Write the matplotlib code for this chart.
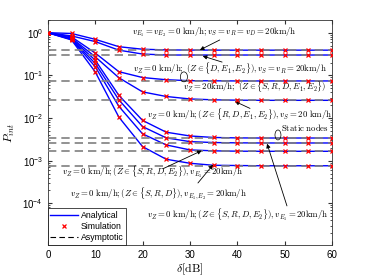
import matplotlib
matplotlib.use('Agg')
import matplotlib.pyplot as plt
from matplotlib.lines import Line2D
from matplotlib.patches import Ellipse
from matplotlib.ticker import LogLocator, NullFormatter

plt.rcParams['font.family'] = ['Liberation Sans', 'DejaVu Sans']
plt.rcParams['mathtext.fontset'] = 'cm'

# SNR points (dB)
delta = [0, 5, 10, 15, 20, 25, 30, 35, 40, 45, 50, 55, 60]

# outage probability curves
p_a1 = [1, 0.96, 0.70, 0.47, 0.41, 0.395, 0.392, 0.391, 0.39, 0.39, 0.39, 0.39, 0.39]
p_a2 = [1, 0.84, 0.62, 0.39, 0.316, 0.30, 0.30, 0.30, 0.30, 0.30, 0.30, 0.30, 0.30]
p_b1 = [1, 0.80, 0.334, 0.122, 0.089, 0.079, 0.075, 0.0745, 0.074, 0.074, 0.074, 0.074, 0.074]
p_b2 = [1, 0.75, 0.273, 0.088, 0.041, 0.032, 0.028, 0.0267, 0.0262, 0.026, 0.026, 0.026, 0.026]
p_c1 = [1, 0.73, 0.228, 0.034, 0.0088, 0.00465, 0.0038, 0.0035, 0.00342, 0.0034, 0.0034, 0.0034, 0.0034]
p_c2 = [1, 0.71, 0.191, 0.0267, 0.0063, 0.00343, 0.0028, 0.00266, 0.00262, 0.0026, 0.0026, 0.0026, 0.0026]
p_c3 = [1, 0.695, 0.16, 0.0188, 0.00426, 0.00234, 0.00179, 0.0017, 0.00167, 0.00166, 0.00166, 0.00166, 0.00166]
p_c4 = [1, 0.676, 0.121, 0.0105, 0.00214, 0.00108, 0.00087, 0.00078, 0.00077, 0.00076, 0.00076, 0.00076, 0.00076]
curves = [p_a1, p_a2, p_b1, p_b2, p_c1, p_c2, p_c3, p_c4]

# asymptotic floors
asym = [0.39, 0.30, 0.074, 0.026, 0.0034, 0.0026, 0.00166, 0.00076]

fig = plt.figure(figsize=(3.68, 2.76), dpi=100)
ax = fig.add_axes([0.130, 0.112, 0.772, 0.816])

for p in curves:
    ax.plot(delta, p, color='#0000ff', lw=1.0, zorder=2)
ax.hlines(asym, 0, 60, colors='#7f7f7f', linestyles=(0, (5, 3)), lw=1.2, zorder=3)
for p in curves:
    ax.plot(delta, p, ls='none', marker='x', color='#ff0000', ms=3.5, mew=0.9, zorder=4)

ax.set_yscale('log')
ax.set_xlim(0, 60)
ax.set_ylim(1.05e-5, 2)
ax.set_xticks([0, 10, 20, 30, 40, 50, 60])
ax.yaxis.set_major_locator(LogLocator(base=10, numticks=10))
ax.yaxis.set_minor_locator(LogLocator(base=10, subs=range(2, 10), numticks=10))
ax.yaxis.set_minor_formatter(NullFormatter())
ax.tick_params(which='both', direction='in', top=True, right=True, labelsize=7, color='#333333')
ax.tick_params(which='major', length=3)
ax.tick_params(which='minor', length=1.5)
for s in ax.spines.values():
    s.set_linewidth(0.6)
    s.set_color('#333333')

ax.set_xlabel(r'$\delta[\mathrm{dB}]$', fontsize=8.5, labelpad=1)
ax.set_ylabel(r'$P_{int}$', fontsize=8.5, labelpad=4)

fs = 6.3
ax.text(17.7, 1.04, r'$v_{E_1}=v_{E_2}=0\ \mathrm{km/h}; v_S=v_R=v_D=20\mathrm{km/h}$', fontsize=fs, va='center')
ax.text(18, 0.148, r'$v_Z=0\ \mathrm{km/h};\ (Z\in\{D,E_1,E_2\}), v_S=v_R=20\mathrm{km/h}$', fontsize=fs, va='center')
ax.text(28.5, 0.0556, r'$v_Z=20\mathrm{km/h};\ (Z\in\{S,R,D,E_1,E_2\})$', fontsize=fs, va='center')
ax.text(20.9, 0.01216, r'$v_Z=0\ \mathrm{km/h};(Z\in\{R,D,E_1,E_2\}), v_S=20\ \mathrm{km/h}$', fontsize=fs, va='center')
ax.text(49.2, 0.006, r'$\mathrm{Static\ nodes}$', fontsize=fs, va='center')
ax.text(3, 5.5e-4, r'$v_Z=0\ \mathrm{km/h};(Z\in\{S,R,D,E_2\}), v_{E_1}=20\mathrm{km/h}$', fontsize=fs, va='center')
ax.text(4.6, 1.66e-4, r'$v_Z=0\ \mathrm{km/h};(Z\in\{S,R,D\}), v_{E_1,E_2}=20\mathrm{km/h}$', fontsize=fs, va='center')
ax.text(20.9, 5.3e-5, r'$v_Z=0\ \mathrm{km/h};(Z\in\{S,R,D,E_2\}), v_{E_1}=20\mathrm{km/h}$', fontsize=fs, va='center')

arrow = dict(arrowstyle='-|>', color='k', lw=0.6, mutation_scale=6, shrinkA=0, shrinkB=0)
ax.annotate('', xy=(32.1, 0.393), xytext=(36.3, 0.676), arrowprops=arrow)
ax.annotate('', xy=(32.7, 0.284), xytext=(36.8, 0.205), arrowprops=arrow)
ax.annotate('', xy=(39.5, 0.0246), xytext=(42.7, 0.0168), arrowprops=arrow)
ax.annotate('', xy=(32.5, 1.72e-3), xytext=(24.3, 6.46e-4), arrowprops=arrow)
ax.annotate('', xy=(34.9, 8.05e-4), xytext=(31.7, 3.0e-4), arrowprops=arrow)
ax.annotate('', xy=(46.3, 2.5e-3), xytext=(50.5, 8.7e-5), arrowprops=arrow)

ax.add_patch(Ellipse((0.479, 0.747), 0.025, 0.044, transform=ax.transAxes,
                     fill=False, ec='k', lw=0.5, zorder=5))
ax.add_patch(Ellipse((0.81, 0.489), 0.021, 0.044, transform=ax.transAxes,
                     fill=False, ec='k', lw=0.5, zorder=5))

handles = [Line2D([], [], color='#0000ff', lw=1.0),
           Line2D([], [], ls='none', marker='x', color='#ff0000', ms=3.5, mew=0.9),
           Line2D([], [], color='k', ls=(0, (5, 3)), lw=0.8)]
leg = ax.legend(handles, ['Analytical', 'Simulation', 'Asymptotic'], loc='lower left',
                fontsize=6.3, fancybox=False, edgecolor='k', framealpha=1,
                borderaxespad=0, handlelength=3.2, handletextpad=0.3,
                labelspacing=0.25, borderpad=0.3)
leg.get_frame().set_linewidth(0.5)

fig.savefig('out.png', dpi=100)
